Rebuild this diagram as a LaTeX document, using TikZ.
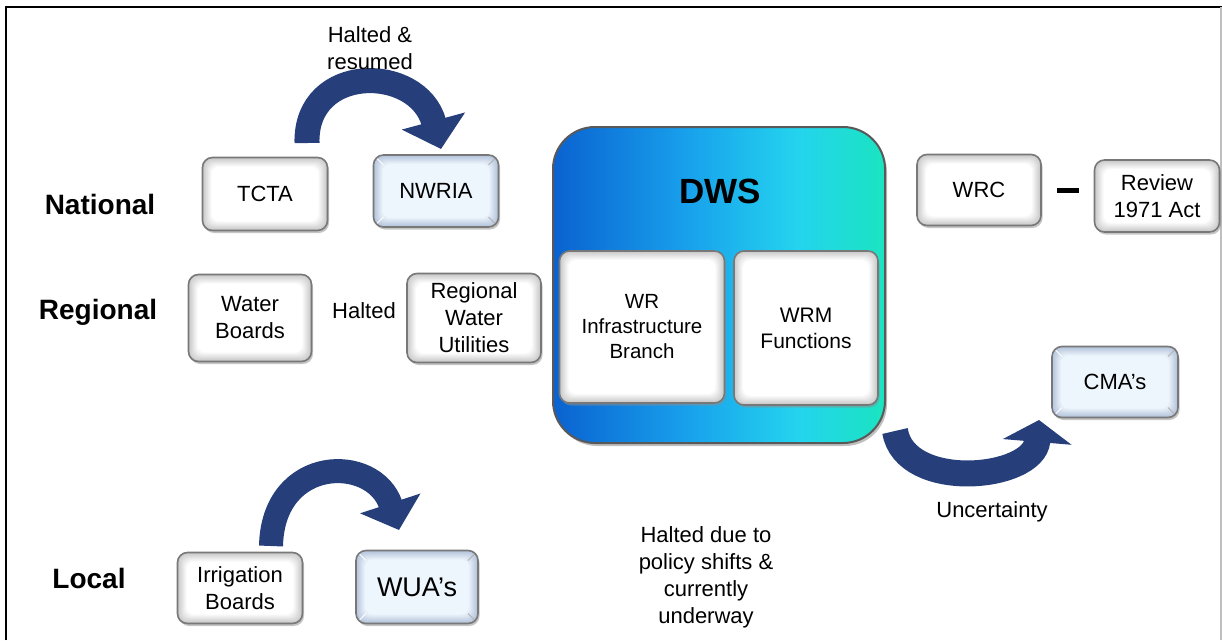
\documentclass[tikz,border=0pt]{standalone}
\usepackage{fontspec}
\setmainfont{Liberation Sans}
\usetikzlibrary{arrows.meta,shadows}
\definecolor{arrowblue}{RGB}{38,63,122}
\definecolor{framegray}{RGB}{120,120,120}
\definecolor{kcin}{RGB}{238,246,253}
\definecolor{kcout}{RGB}{178,194,218}
\definecolor{bvout}{RGB}{200,200,200}
\definecolor{dwsA}{RGB}{10,98,208}
\definecolor{dwsB}{RGB}{24,160,236}
\definecolor{dwsC}{RGB}{36,212,238}
\definecolor{dwsD}{RGB}{26,228,192}
\pgfdeclarehorizontalshading{dwsshade}{100bp}{color(0bp)=(dwsA); color(25bp)=(dwsA); color(45bp)=(dwsB); color(62bp)=(dwsC); color(75bp)=(dwsD); color(100bp)=(dwsD)}
\newcommand\bevelpic[2]{%
  \foreach \i in {0,...,9}{%
    \pgfmathsetmacro\pct{100*\i/9}%
    \fill[#2!\pct!#1, rounded corners=8pt]
      ([shift={(\i pt,-\i pt)}]path picture bounding box.north west) rectangle
      ([shift={(-\i pt,\i pt)}]path picture bounding box.south east);
  }}
\newcommand\keylines{%
  \draw[white, line width=0.8pt]
    (path picture bounding box.north west) -- ([shift={(10pt,-10pt)}]path picture bounding box.north west)
    (path picture bounding box.south west) -- ([shift={(10pt,10pt)}]path picture bounding box.south west);
  \draw[black!30, line width=0.8pt]
    (path picture bounding box.north east) -- ([shift={(-10pt,-10pt)}]path picture bounding box.north east)
    (path picture bounding box.south east) -- ([shift={(-10pt,10pt)}]path picture bounding box.south east);}
\tikzset{
  txt/.style={font=\fontsize{22}{27}\selectfont, align=center, inner sep=0pt},
  level/.style={font=\fontsize{28}{32}\selectfont\bfseries, inner sep=0pt},
  wbox/.style={rounded corners=10, draw=framegray, line width=1.6, fill=white,
    path picture={\bevelpic{bvout}{white}},
    align=center, font=\fontsize{22}{27}\selectfont, inner sep=2pt,
    drop shadow={shadow xshift=1.5pt, shadow yshift=-2.5pt, fill=black!45, opacity=0.5}},
  kbox/.style={wbox, path picture={\bevelpic{kcout}{kcin}\keylines}},
  dwsbox/.style={rounded corners=42, draw=black!65, line width=2, shading=dwsshade,
    drop shadow={shadow xshift=2pt, shadow yshift=-3pt, fill=black!50, opacity=0.5}},
  bigarrow/.style={draw=arrowblue, line width=#1, line cap=butt},
}
\begin{document}
\begin{tikzpicture}[x=1pt,y=-1pt]
\useasboundingbox (0,0) rectangle (1222,640);
% frame
\draw[line width=2.5] (6,640) -- (6,7) -- (1222,7);
\draw[black!25, line width=1.5] (1221,7) -- (1221,640);

% curved block arrows
\coordinate (a1s) at (307,143);
\coordinate (a1e) at (441,149);
\draw[bigarrow=25, -{Triangle[length=29pt,width=64pt]}] (a1s) .. controls (305,63) and (418,64) .. (a1e);

\coordinate (a2s) at (271,546);
\coordinate (a2e) at (399,530);
\draw[bigarrow=24, -{Triangle[length=28pt,width=62pt]}] (a2s) .. controls (273,455) and (374,454) .. (a2e);

\coordinate (a3s) at (895,431);
\coordinate (a3e) at (1039,420);
\draw[bigarrow=26, -{Triangle[length=22pt,width=68pt]}] (a3s) .. controls (905,492) and (1034,480) .. (a3e);

% level labels
\node[level] (national) at (100,204) {National};
\node[level] (regional) at (98,312) {Regional};
\node[level] (local) at (89,578) {Local};

% national row
\node[wbox, minimum width=125, minimum height=73] (tcta) at (265,194) {TCTA};
\node[kbox, minimum width=125, minimum height=72] (nwria) at (436,191) {NWRIA};
\node[txt] (halres) at (370,48) {Halted \&\\resumed};

% regional row
\node[wbox, minimum width=123, minimum height=87] (wb) at (250,318) {Water\\Boards};
\node[txt] (halted) at (364,311) {Halted};
\node[wbox, minimum width=134, minimum height=89] (rwu) at (474,318) {Regional\\Water\\Utilities};

% DWS
\node[dwsbox, minimum width=332, minimum height=316] (dws) at (719,285) {};
\node[font=\fontsize{35}{40}\selectfont\bfseries, inner sep=0pt] (dwst) at (720,191) {DWS};
\node[wbox, minimum width=165, minimum height=152, font=\fontsize{20.5}{25}\selectfont] (wri) at (642,327) {WR\\Infrastructure\\Branch};
\node[wbox, minimum width=144, minimum height=154, font=\fontsize{21}{26}\selectfont] (wrm) at (806,328) {WRM\\Functions};

% right side
\node[wbox, minimum width=124, minimum height=71] (wrc) at (979,190) {WRC};
\node[wbox, minimum width=125, minimum height=72] (review) at (1157,196) {Review\\1971 Act};
\draw[line width=5, shorten <=15, shorten >=15] (wrc.east) -- (wrc.east -| review.west);
\node[kbox, minimum width=126, minimum height=71] (cma) at (1115,382) {CMA’s};
\node[txt] (unc) at (992,512) {Uncertainty};

% local row
\node[wbox, minimum width=125, minimum height=71] (ib) at (240,588) {Irrigation\\Boards};
\node[kbox, minimum width=122, minimum height=73, font=\fontsize{27}{30}\selectfont] (wua) at (417,587) {WUA’s};
\node[txt] (policy) at (706,577) {Halted due to\\policy shifts \&\\currently\\underway};
\end{tikzpicture}
\end{document}
